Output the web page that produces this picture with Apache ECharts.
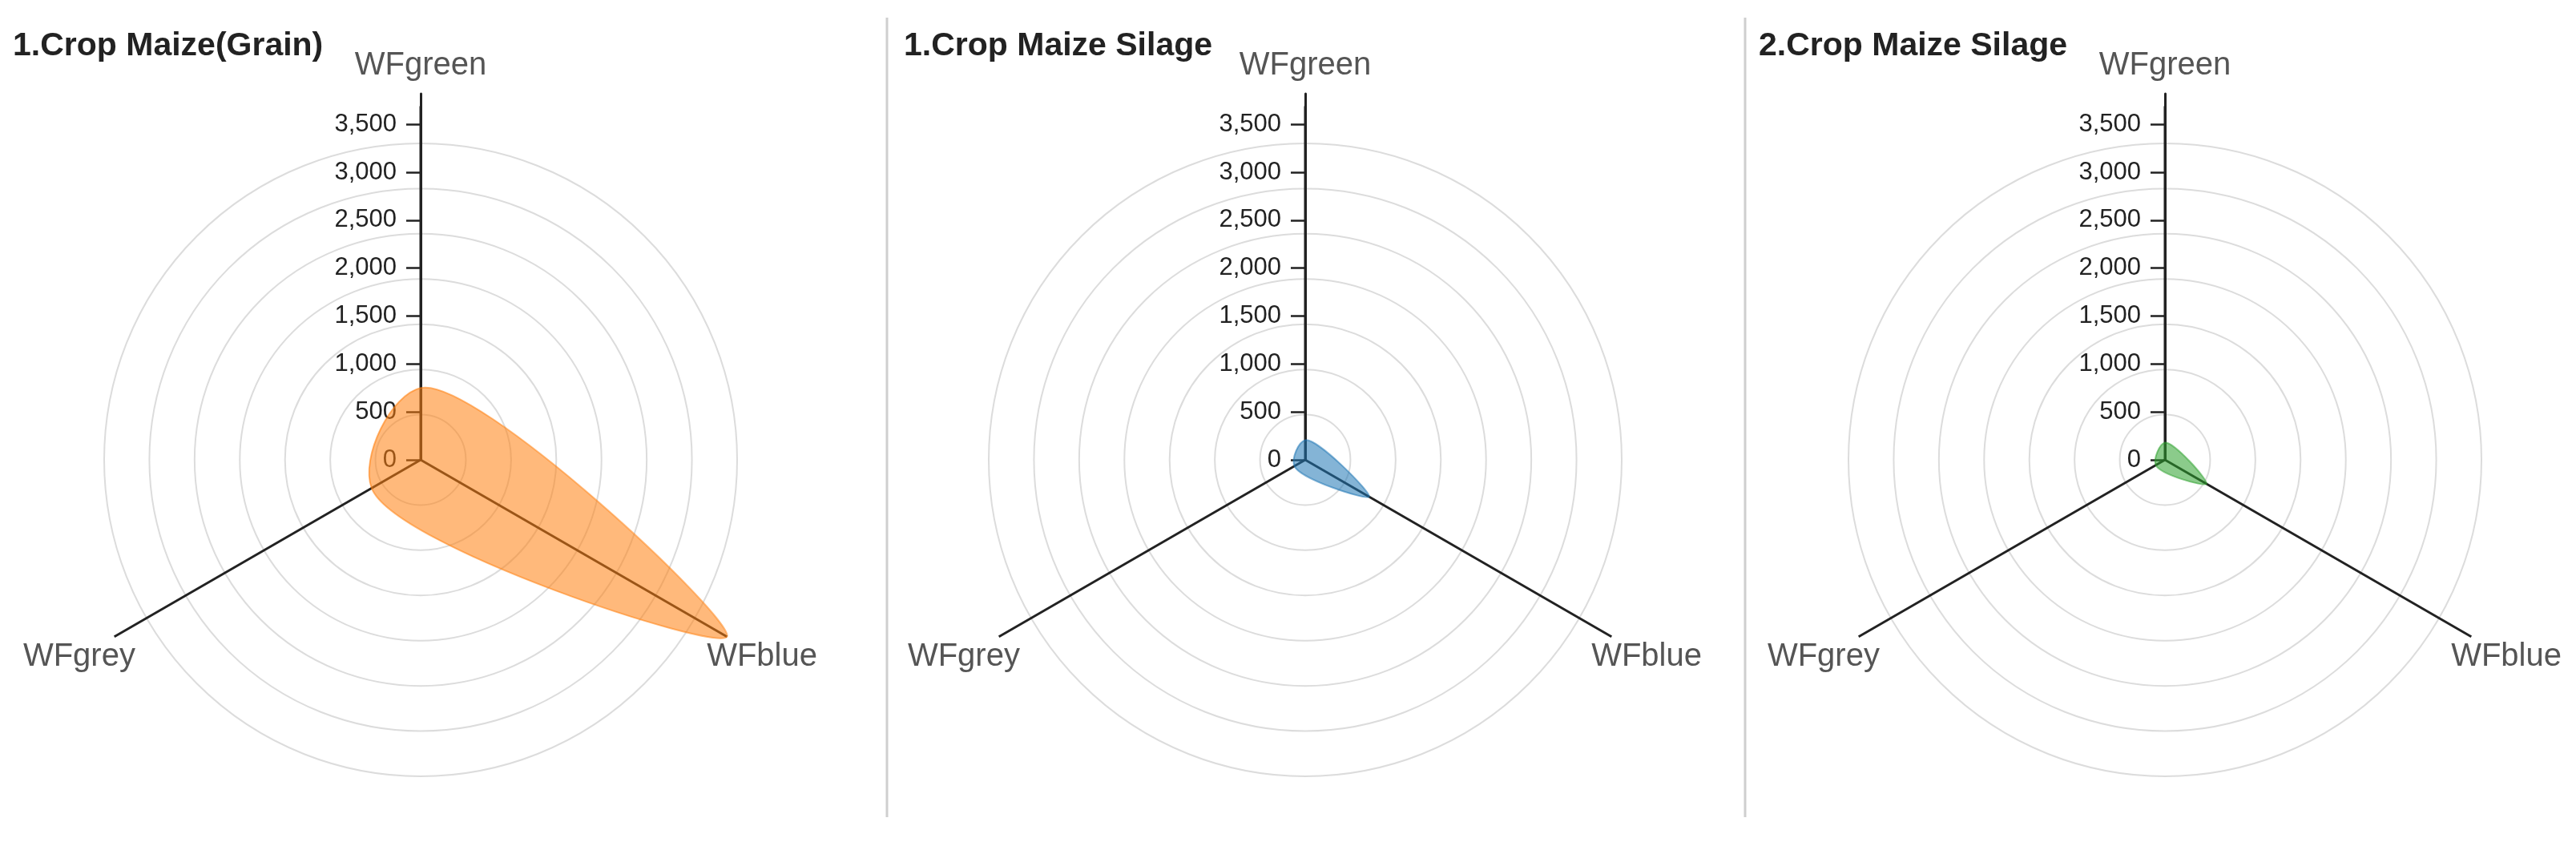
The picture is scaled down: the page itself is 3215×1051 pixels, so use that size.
<!DOCTYPE html>
<html>
<head>
<meta charset="utf-8">
<title>Maize water footprint radars</title>
<script src="https://cdn.jsdelivr.net/npm/echarts@6/dist/echarts.min.js"></script>
<style>
  html, body { margin: 0; padding: 0; background: #fff; }
  #chart { width: 3215px; height: 1051px; }
</style>
</head>
<body>
<div id="chart"></div>
<script>
const categories = ["WFgreen", "WFblue", "WFgrey"];
const panelTitles = ["1.Crop Maize(Grain)", "1.Crop Maize Silage", "2.Crop Maize Silage"];
const grainValues = [750, 3690, 590];
const silage1Values = [205, 770, 130];
const silage2Values = [180, 500, 110];
const axisMax = 3820;   // end of the labelled axis
const spokeMax = 3690;  // spokes stop at the largest value
const tickStep = 500;
const gridLevels = 7;

const panelValues = [grainValues, silage1Values, silage2Values];
const panelColors = ["#ff7f0e", "#1f77b4", "#2ca02c"];
const centersX = [525, 1629, 2702];
const centerY = 574;
const axisRadius = 457;
const gridRadius = 395;
const titleLefts = [16, 1128, 2195];
const dividers = [1107, 2178];

// one segment of a closed centripetal Catmull-Rom curve (alpha 0.5)
function crSegment(p0, p1, p2, p3) {
  const dist = function (a, b) { return Math.hypot(a[0] - b[0], a[1] - b[1]); };
  const d01 = dist(p0, p1), d12 = dist(p1, p2), d23 = dist(p2, p3);
  const l01a = Math.sqrt(d01), l12a = Math.sqrt(d12), l23a = Math.sqrt(d23);
  let c1 = p1.slice(), c2 = p2.slice();
  if (l01a > 1e-9) {
    const a = 2 * d01 + 3 * l01a * l12a + d12, n = 3 * l01a * (l01a + l12a);
    c1 = [(p1[0] * a - p0[0] * d12 + p2[0] * d01) / n, (p1[1] * a - p0[1] * d12 + p2[1] * d01) / n];
  }
  if (l23a > 1e-9) {
    const b = 2 * d23 + 3 * l23a * l12a + d12, m = 3 * l23a * (l23a + l12a);
    c2 = [(p2[0] * b + p1[0] * d23 - p3[0] * d12) / m, (p2[1] * b + p1[1] * d23 - p3[1] * d12) / m];
  }
  return "C" + c1[0] + "," + c1[1] + " " + c2[0] + "," + c2[1] + " " + p2[0] + "," + p2[1];
}

function renderShape(color) {
  return function (params, api) {
    if (params.dataIndex !== 0) return null;
    const n = categories.length;
    const pts = [];
    for (let i = 0; i < n; i++) {
      pts.push(api.coord([api.value(0, i), i]));
    }
    let d = "M" + pts[0][0] + "," + pts[0][1];
    for (let i = 0; i < n; i++) {
      d += crSegment(pts[(i - 1 + n) % n], pts[i], pts[(i + 1) % n], pts[(i + 2) % n]);
    }
    d += "Z";

    const cx = params.coordSys.cx, cy = params.coordSys.cy, r = params.coordSys.r;
    const names = categories.map(function (name, i) {
      const end = api.coord([axisMax, i]);
      const k = (r + 35) / r;
      return {
        type: "text",
        style: {
          x: cx + (end[0] - cx) * k,
          y: cy + (end[1] - cy) * k,
          text: name,
          fill: "#555",
          font: "40px 'Liberation Sans', Arial, sans-serif",
          align: "center",
          verticalAlign: "middle"
        }
      };
    });

    return {
      type: "group",
      children: [{
        type: "path",
        shape: { pathData: d },
        style: { fill: color, opacity: 0.55, stroke: color, lineWidth: 2 }
      }].concat(names)
    };
  };
}

const polar = [], radiusAxis = [], angleAxis = [], series = [];
panelValues.forEach(function (values, k) {
  const base = polar.length;
  // A: labelled axis + data
  polar.push({ center: [centersX[k], centerY], radius: axisRadius });
  // B: spokes
  polar.push({ center: [centersX[k], centerY], radius: axisRadius * spokeMax / axisMax });
  // C: grid circles
  polar.push({ center: [centersX[k], centerY], radius: gridRadius });

  radiusAxis.push({
    polarIndex: base, type: "value", min: 0, max: axisMax, interval: tickStep, z: 3,
    axisLine: { show: true, lineStyle: { color: "#222", width: 3 } },
    axisTick: { show: true, length: 18, lineStyle: { color: "#222", width: 2.5 } },
    axisLabel: {
      margin: 30, fontSize: 31, color: "#222", showMaxLabel: false,
      formatter: function (v) { return v.toLocaleString("en-US"); }
    },
    splitLine: { show: false }
  });
  angleAxis.push({
    polarIndex: base, type: "category", data: categories, startAngle: 90, boundaryGap: false,
    axisLine: { show: false }, axisTick: { show: false }, axisLabel: { show: false }, splitLine: { show: false }
  });

  radiusAxis.push({ polarIndex: base + 1, type: "value", min: 0, max: 1, show: false });
  angleAxis.push({
    polarIndex: base + 1, type: "category", data: categories, startAngle: 90, boundaryGap: false,
    axisLine: { show: false }, axisTick: { show: false }, axisLabel: { show: false },
    splitLine: { show: true, lineStyle: { color: "#222", width: 3 } }
  });

  radiusAxis.push({
    polarIndex: base + 2, type: "value", min: 0, max: gridLevels, interval: 1,
    axisLine: { show: false }, axisTick: { show: false }, axisLabel: { show: false },
    splitLine: { show: true, lineStyle: { color: "#dcdcdc", width: 2 } }
  });
  angleAxis.push({ polarIndex: base + 2, type: "value", show: false });

  series.push({
    type: "custom",
    coordinateSystem: "polar",
    polarIndex: base,
    encode: { radius: 0, angle: 1 },
    data: values.map(function (v, i) { return [v, i]; }),
    renderItem: renderShape(panelColors[k]),
    silent: true,
    z: 5
  });
});

const chart = echarts.init(document.getElementById("chart"));
chart.setOption({
  animation: false,
  backgroundColor: "#fff",
  textStyle: { fontFamily: "'Liberation Sans', Arial, sans-serif" },
  title: panelTitles.map(function (t, k) {
    return {
      text: t, left: titleLefts[k], top: 37, padding: 0,
      textStyle: { fontSize: 41, fontWeight: "bold", color: "#222" }
    };
  }),
  graphic: dividers.map(function (x) {
    return {
      type: "line", shape: { x1: x, y1: 22, x2: x, y2: 1020 },
      style: { stroke: "#cfcfcf", lineWidth: 3 }
    };
  }),
  polar: polar,
  radiusAxis: radiusAxis,
  angleAxis: angleAxis,
  series: series
});
</script>
</body>
</html>
